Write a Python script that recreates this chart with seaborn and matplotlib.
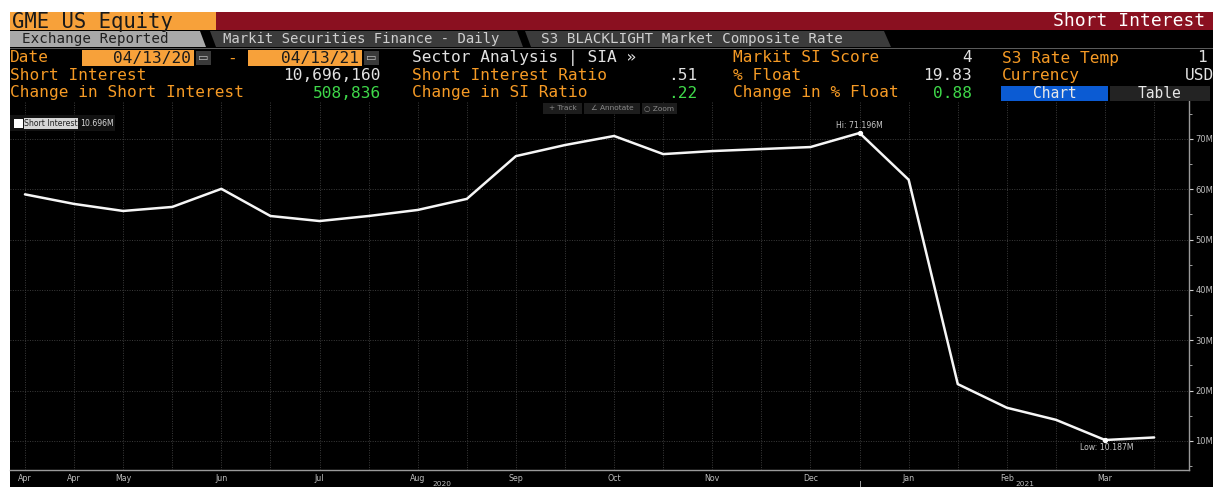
import numpy as np
import pandas as pd
import seaborn as sns
import matplotlib
matplotlib.use("Agg")
import matplotlib.pyplot as plt
from matplotlib.patches import Rectangle, Polygon
from matplotlib.ticker import FixedLocator, MultipleLocator, FuncFormatter

# ---------------- data ----------------
settle_dates = ["2020-04-15", "2020-04-30", "2020-05-15", "2020-05-29", "2020-06-15",
                "2020-06-30", "2020-07-15", "2020-07-31", "2020-08-14", "2020-08-31",
                "2020-09-15", "2020-09-30", "2020-10-15", "2020-10-30", "2020-11-13",
                "2020-11-30", "2020-12-15", "2020-12-31", "2021-01-15", "2021-01-29",
                "2021-02-12", "2021-02-26", "2021-03-15", "2021-03-31"]
short_interest_m = [59.0, 57.1, 55.7, 56.5, 60.1, 54.7, 53.7, 54.7, 55.9, 58.1,
                    66.6, 68.8, 70.6, 67.0, 67.6, 68.0, 68.4, 71.196, 61.9, 21.3,
                    16.6, 14.2, 10.187, 10.696]
x_tick_labels = ["Apr", "Apr", "May", "", "Jun", "", "Jul", "", "Aug", "", "Sep", "",
                 "Oct", "", "Nov", "", "Dec", "", "Jan", "", "Feb", "", "Mar", ""]
year_labels = ["2020", "2021"]
y_ticks_m = [10, 20, 30, 40, 50, 60, 70]

# header fields
row3 = [("Date", "04/13/20", "04/13/21"), ("Sector Analysis | SIA \u00bb",), ("Markit SI Score", "4"), ("S3 Rate Temp", "1")]
row4 = [("Short Interest", "10,696,160"), ("Short Interest Ratio", ".51"), ("% Float", "19.83"), ("Currency", "USD")]
row5 = [("Change in Short Interest", "508,836"), ("Change in SI Ratio", ".22"), ("Change in % Float", "0.88")]
tabs = ["Exchange Reported", "Markit Securities Finance - Daily", "S3 BLACKLIGHT Market Composite Rate"]

df = pd.DataFrame({"idx": np.arange(len(short_interest_m)),
                   "date": pd.to_datetime(settle_dates),
                   "si": short_interest_m})

# ---------------- figure ----------------
sns.set_theme(style="dark")
plt.rcParams['font.family'] = ['DejaVu Sans']
W, H = 1213, 487
fig = plt.figure(figsize=(W / 100, H / 100), dpi=100)
fig.patch.set_facecolor("white")

def fx(px):
    return px / W

def fy(py):
    return 1 - py / H

def rect(x0, y0, x1, y1, color, z=1):
    r = Rectangle((fx(x0), fy(y1)), (x1 - x0) / W, (y1 - y0) / H,
                  transform=fig.transFigure, facecolor=color, edgecolor="none", zorder=z)
    fig.add_artist(r)
    return r

def poly(pts, color, z=1):
    p = Polygon([(fx(a), fy(b)) for a, b in pts], closed=True, transform=fig.transFigure,
                facecolor=color, edgecolor="none", zorder=z)
    fig.add_artist(p)

def txt(x, y, s, color, size, ha="left", family="DejaVu Sans Mono", weight="normal", **kw):
    fig.text(fx(x), fy(y), s, color=color, fontsize=size, ha=ha, va="center",
             family=family, weight=weight, zorder=5, **kw)

ORANGE = "#f59a25"
ORANGE_BOX = "#f7a13a"
GREEN = "#3fd94a"
LIGHT = "#e2e2e2"

# black background for everything below the title bar
rect(10, 30, W, H, "black", z=-5)

# title bar
rect(10, 12, 216, 30, ORANGE_BOX)
rect(216, 12, W, 30, "#8a1020")
txt(12, 21.5, "GME US Equity", "#1a1a1a", 14.8)
txt(1205, 21.5, "Short Interest", "white", 13, ha="right")

# tabs
poly([(10, 31), (200, 31), (206, 47), (10, 47)], "#a9a9a9")
poly([(210, 31), (517, 31), (523, 47), (216, 47)], "#3b3b3b")
poly([(525, 31), (884, 31), (891, 47), (531, 47)], "#3b3b3b")
rect(10, 47.5, W, 49, "#5a5a5a")
txt(22, 39.5, tabs[0], "#202020", 10.3)
txt(223, 39.5, tabs[1], "#cfcfcf", 10.0)
txt(541, 39.5, tabs[2], "#cfcfcf", 10.3)

# row 3
y3, y4, y5 = 58, 75.5, 93
fs = 11.6
txt(10, y3, row3[0][0], ORANGE, fs)
rect(82, 50, 194, 66, ORANGE_BOX)
rect(196, 51, 211, 65, "#3a3a3a")
txt(191, y3, row3[0][1], "#1a1a1a", fs, ha="right")
txt(203.5, y3, "\u25ad", "#bdbdbd", 8, ha="center", family="DejaVu Sans")
txt(232, y3, "-", ORANGE, fs, ha="center")
rect(248, 50, 362, 66, ORANGE_BOX)
rect(364, 51, 379, 65, "#3a3a3a")
txt(359, y3, row3[0][2], "#1a1a1a", fs, ha="right")
txt(371.5, y3, "\u25ad", "#bdbdbd", 8, ha="center", family="DejaVu Sans")
txt(412, y3, row3[1][0], LIGHT, fs)
txt(733, y3, row3[2][0], ORANGE, fs)
txt(972, y3, row3[2][1], LIGHT, fs, ha="right")
txt(1002, y3, row3[3][0], ORANGE, fs)
txt(1207, y3, row3[3][1], LIGHT, fs, ha="right")

# row 4
txt(10, y4, row4[0][0], ORANGE, fs)
txt(381, y4, row4[0][1], LIGHT, fs, ha="right")
txt(412, y4, row4[1][0], ORANGE, fs)
txt(697, y4, row4[1][1], LIGHT, fs, ha="right")
txt(733, y4, row4[2][0], ORANGE, fs)
txt(972, y4, row4[2][1], LIGHT, fs, ha="right")
txt(1002, y4, row4[3][0], ORANGE, fs)
txt(1185, y4, row4[3][1], LIGHT, fs)

# row 5
txt(10, y5, row5[0][0], ORANGE, fs)
txt(381, y5, row5[0][1], GREEN, fs, ha="right")
txt(412, y5, row5[1][0], ORANGE, fs)
txt(697, y5, row5[1][1], GREEN, fs, ha="right")
txt(733, y5, row5[2][0], ORANGE, fs)
txt(972, y5, row5[2][1], GREEN, fs, ha="right")
rect(1001, 86, 1108, 101, "#0b5bd3")
rect(1110, 86, 1210, 101, "#232323")
txt(1055, y5, "Chart", "#e8e8e8", 10.5, ha="center")
txt(1160, y5, "Table", "#e8e8e8", 10.5, ha="center")

# ---------------- chart axes ----------------
ax_left, ax_right, ax_top, ax_bottom = 10, 1189, 101, 470
ax = fig.add_axes([fx(ax_left), fy(ax_bottom), (ax_right - ax_left) / W, (ax_bottom - ax_top) / H])
ax.set_facecolor("black")

sns.lineplot(data=df, x="idx", y="si", ax=ax, color="#f6f6f6", linewidth=1.8)

# Hi / Low markers
imax = int(np.argmax(short_interest_m))
imin = int(np.argmin(short_interest_m))
ax.scatter([imax, imin], [short_interest_m[imax], short_interest_m[imin]], s=8, color="white", zorder=4)
ax.annotate(f"Hi: {short_interest_m[imax]:.3f}M", (imax, short_interest_m[imax]), xytext=(0, 2.5),
            textcoords="offset points", ha="center", va="bottom", color="#c8c8c8", fontsize=5.6)
ax.annotate(f"Low: {short_interest_m[imin]:.3f}M", (imin, short_interest_m[imin]), xytext=(1, -2.5),
            textcoords="offset points", ha="center", va="top", color="#c8c8c8", fontsize=5.6)

# scales: map pixel geometry
ax.set_xlim(-0.305, 23.71)
ax.set_ylim(4.23, 77.55)

ax.xaxis.set_major_locator(FixedLocator(df["idx"].tolist()))
ax.set_xticklabels(x_tick_labels)
ax.yaxis.tick_right()
ax.yaxis.set_major_locator(FixedLocator(y_ticks_m))
ax.yaxis.set_minor_locator(MultipleLocator(5))
ax.yaxis.set_major_formatter(FuncFormatter(lambda v, p: f"{int(v)}M"))

ax.tick_params(axis="x", colors="#9a9a9a", labelcolor="#bdbdbd", labelsize=5.7, length=2,
               width=0.8, direction="inout", pad=2)
ax.tick_params(axis="y", which="major", colors="#d0d0d0", labelcolor="#bdbdbd", labelsize=6,
               length=3, width=0.8, direction="out", pad=1.5)
ax.tick_params(axis="y", which="minor", colors="#bbbbbb", length=2.5, width=0.6, direction="out")

ax.grid(True, which="major", color="#3c3c3c", linestyle=(0, (1, 1.5)), linewidth=0.7)
ax.set_xlabel("")
ax.set_ylabel("")
for side in ["top", "left"]:
    ax.spines[side].set_visible(False)
for side in ["right", "bottom"]:
    ax.spines[side].set_visible(True)
    ax.spines[side].set_color("#9a9a9a")
    ax.spines[side].set_linewidth(1.0)

# year labels and year divider below the axis
txt(442, 484, year_labels[0], "#bdbdbd", 5.3, ha="center", family="DejaVu Sans")
txt(1025, 484, year_labels[1], "#bdbdbd", 5.3, ha="center", family="DejaVu Sans")
rect(859.5, 481, 860.5, 487, "#9a9a9a", z=2)

# toolbar in the chart
rect(543, 103, 582, 114, "#1d1d1d", z=2)
rect(584, 103, 640, 114, "#1d1d1d", z=2)
rect(642, 103, 677, 114, "#1d1d1d", z=2)
txt(562.5, 108.5, "+ Track", "#8a8a8a", 5.3, ha="center", family="DejaVu Sans")
txt(612, 108.5, "\u2220 Annotate", "#8a8a8a", 5.3, ha="center", family="DejaVu Sans")
txt(659.5, 108.5, "\u25cb Zoom", "#8a8a8a", 5.3, ha="center", family="DejaVu Sans")

# legend
rect(10, 115, 115, 131, "#121212", z=2)
rect(14, 118.5, 23, 127.5, "white", z=3)
rect(23.5, 118, 77.5, 128.5, "#d6d6d6", z=3)
txt(24, 123.5, "Short Interest", "#222222", 5.6, family="DejaVu Sans")
txt(80, 123.5, f"{short_interest_m[-1]:.3f}M", "#d8d8d8", 5.6, family="DejaVu Sans")

fig.savefig("out.png", dpi=100, facecolor=fig.get_facecolor())
